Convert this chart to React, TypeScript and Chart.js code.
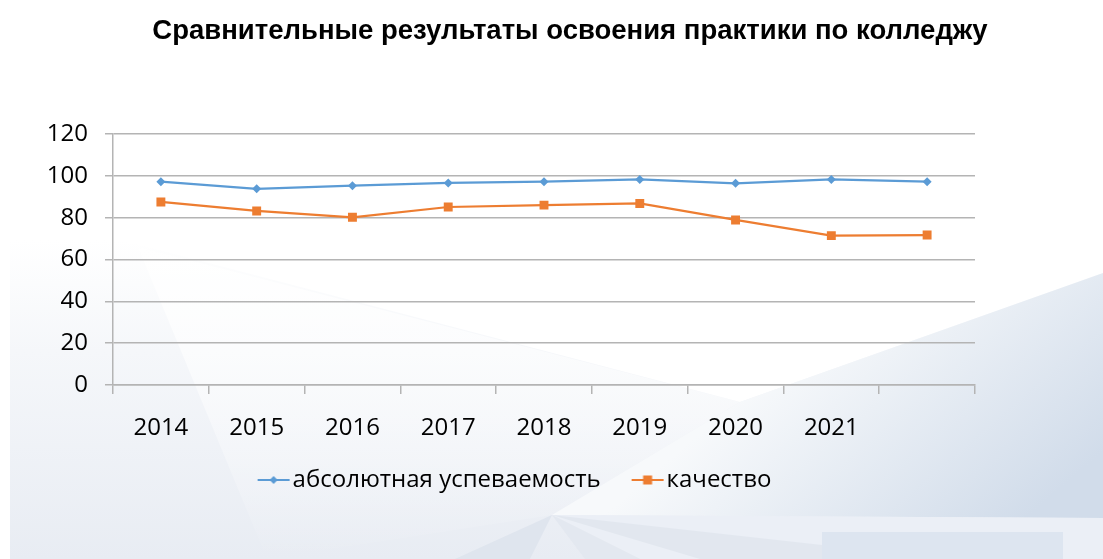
import { useEffect, useRef } from 'react';
import { Chart, registerables } from 'chart.js';

Chart.register(...registerables);

const chartTitle = 'Сравнительные результаты освоения практики по колледжу';
const categories = ['2014', '2015', '2016', '2017', '2018', '2019', '2020', '2021', ''];
const seriesNames = ['абсолютная успеваемость', 'качество'];
const absoluteValues = [97.2, 93.8, 95.3, 96.6, 97.2, 98.3, 96.4, 98.3, 97.2];
const qualityValues = [87.5, 83.2, 80.2, 85.1, 86.0, 86.8, 78.9, 71.4, 71.7];
const yMin = 0;
const yMax = 120;
const yStep = 20;

const BLUE = '#5b9bd5';
const ORANGE = '#ed7d31';
const GRID = '#b4b4b4';
const TICK_FONT = "'Open Sans', sans-serif";

// legend icon: canvas centred on the legend box, visible line+marker shifted right
function legendIcon(color: string, kind: 'diamond' | 'square'): HTMLCanvasElement {
  const c = document.createElement('canvas');
  c.width = 64;
  c.height = 14;
  const ctx = c.getContext('2d')!;
  const x0 = 25;
  const x1 = 57;
  const cx = (x0 + x1) / 2;
  ctx.strokeStyle = color;
  ctx.lineWidth = 2;
  ctx.beginPath();
  ctx.moveTo(x0, 7);
  ctx.lineTo(x1, 7);
  ctx.stroke();
  ctx.fillStyle = color;
  ctx.beginPath();
  if (kind === 'diamond') {
    ctx.moveTo(cx, 3);
    ctx.lineTo(cx + 4, 7);
    ctx.lineTo(cx, 11);
    ctx.lineTo(cx - 4, 7);
    ctx.closePath();
  } else {
    ctx.rect(cx - 4.5, 2.5, 9, 9);
  }
  ctx.fill();
  return c;
}

const backgroundPlugin = {
  id: 'slideBackground',
  beforeDraw(chart: any) {
    const ctx = chart.ctx as CanvasRenderingContext2D;
    const W = chart.width;
    const H = chart.height;
    ctx.save();
    ctx.fillStyle = '#ffffff';
    ctx.fillRect(0, 0, W, H);

    // soft grey area below the white "V"
    let g = ctx.createLinearGradient(0, 240, 0, H);
    g.addColorStop(0, '#ffffff');
    g.addColorStop(0.35, '#f5f7fa');
    g.addColorStop(1, '#e8ecf3');
    ctx.fillStyle = g;
    ctx.beginPath();
    ctx.moveTo(10, 215);
    ctx.lineTo(140, 245);
    ctx.lineTo(740, 402);
    ctx.lineTo(W, 273);
    ctx.lineTo(W, H);
    ctx.lineTo(10, H);
    ctx.closePath();
    ctx.fill();

    // lighter ray from top-left
    g = ctx.createLinearGradient(0, 250, 0, H);
    g.addColorStop(0, 'rgba(255,255,255,0.9)');
    g.addColorStop(1, 'rgba(255,255,255,0.0)');
    ctx.fillStyle = g;
    ctx.beginPath();
    ctx.moveTo(138, 247);
    ctx.lineTo(740, 402);
    ctx.lineTo(552, 515);
    ctx.lineTo(267, H);
    ctx.closePath();
    ctx.fill();

    // blue region on the right
    g = ctx.createLinearGradient(820, 330, 1000, 540);
    g.addColorStop(0, '#f7f9fb');
    g.addColorStop(1, '#d1dcea');
    ctx.fillStyle = g;
    ctx.beginPath();
    ctx.moveTo(552, 515);
    ctx.lineTo(740, 402);
    ctx.lineTo(W, 273);
    ctx.lineTo(W, 518);
    ctx.closePath();
    ctx.fill();

    // bottom band
    ctx.fillStyle = '#ebeff6';
    ctx.beginPath();
    ctx.moveTo(552, 515);
    ctx.lineTo(W, 518);
    ctx.lineTo(W, H);
    ctx.lineTo(640, H);
    ctx.closePath();
    ctx.fill();

    // fan rays from the vertex
    ctx.fillStyle = '#dfe5ee';
    ctx.beginPath();
    ctx.moveTo(552, 515);
    ctx.lineTo(455, H);
    ctx.lineTo(530, H);
    ctx.closePath();
    ctx.fill();
    ctx.fillStyle = '#e3e8f0';
    ctx.beginPath();
    ctx.moveTo(552, 515);
    ctx.lineTo(585, H);
    ctx.lineTo(640, H);
    ctx.closePath();
    ctx.fill();
    ctx.fillStyle = '#e2e7ef';
    ctx.beginPath();
    ctx.moveTo(552, 515);
    ctx.lineTo(700, H);
    ctx.lineTo(822, H);
    ctx.lineTo(822, 545);
    ctx.closePath();
    ctx.fill();

    // rectangle bottom right
    ctx.fillStyle = '#dde5f0';
    ctx.fillRect(822, 532, 241, H - 532);
    ctx.restore();
  },
  afterDraw(chart: any) {
    const ctx = chart.ctx as CanvasRenderingContext2D;
    ctx.save();
    ctx.fillStyle = '#000';
    ctx.font = "bold 27.5px 'Liberation Sans', Arial, sans-serif";
    ctx.textAlign = 'center';
    ctx.textBaseline = 'middle';
    ctx.fillText(chartTitle, 570, 31);
    ctx.restore();
  },
};

export default function App() {
  const canvasRef = useRef<HTMLCanvasElement | null>(null);

  useEffect(() => {
    document.body.style.margin = '0';
    const canvas = canvasRef.current;
    if (!canvas) return;
    const chart = new Chart(canvas, {
      type: 'line',
      data: {
        labels: categories,
        datasets: [
          {
            label: seriesNames[0],
            data: absoluteValues,
            borderColor: BLUE,
            backgroundColor: BLUE,
            borderWidth: 2.25,
            pointStyle: 'rectRot',
            pointRadius: 4.5,
            pointBorderWidth: 0,
            pointBackgroundColor: BLUE,
            tension: 0,
          },
          {
            label: seriesNames[1],
            data: qualityValues,
            borderColor: ORANGE,
            backgroundColor: ORANGE,
            borderWidth: 2.25,
            pointStyle: 'rect',
            pointRadius: 6.3,
            pointBorderWidth: 0,
            pointBackgroundColor: ORANGE,
            tension: 0,
          },
        ],
      },
      options: {
        responsive: false,
        animation: false,
        layout: { padding: { left: 0, right: 83, top: 134, bottom: 57 } },
        scales: {
          x: {
            type: 'category',
            offset: true,
            afterFit(scale: any) {
              scale.height = 61;
            },
            grid: {
              offset: true,
              drawOnChartArea: false,
              drawTicks: true,
              tickLength: 9,
              color: GRID,
              lineWidth: 1.5,
            },
            border: { display: true, color: GRID, width: 1.5 },
            ticks: {
              color: '#000',
              font: { family: TICK_FONT, size: 24 },
              padding: 20,
              maxRotation: 0,
              autoSkip: false,
            },
          },
          y: {
            min: yMin,
            max: yMax,
            afterFit(scale: any) {
              scale.width = 113;
            },
            grid: { color: GRID, lineWidth: 1.5, tickLength: 8, drawTicks: true },
            border: { display: true, color: GRID, width: 1.5 },
            ticks: {
              stepSize: yStep,
              color: '#000',
              font: { family: TICK_FONT, size: 24 },
              padding: 17,
            },
          },
          spacer: {
            type: 'linear',
            position: 'right',
            display: true,
            afterFit(scale: any) {
              scale.width = 45;
            },
            grid: { display: false, drawTicks: false },
            border: { display: false },
            ticks: { display: false },
          },
        },
        plugins: {
          title: { display: false },
          legend: {
            display: true,
            position: 'bottom',
            labels: {
              usePointStyle: true,
              pointStyleWidth: 32,
              color: '#000',
              font: { family: TICK_FONT, size: 24 },
              padding: 22,
              generateLabels: (ch: any) =>
                ch.data.datasets.map((ds: any, i: number) => ({
                  text: ds.label,
                  pointStyle: legendIcon(i === 0 ? BLUE : ORANGE, i === 0 ? 'diamond' : 'square'),
                  fillStyle: ds.borderColor,
                  strokeStyle: ds.borderColor,
                  lineWidth: 0,
                  hidden: false,
                  datasetIndex: i,
                  fontColor: '#000',
                })),
            },
          },
          tooltip: { enabled: false },
        },
      } as any,
      plugins: [backgroundPlugin],
    });
    return () => chart.destroy();
  }, []);

  return <canvas ref={canvasRef} width={1103} height={559} style={{ display: 'block' }} />;
}
